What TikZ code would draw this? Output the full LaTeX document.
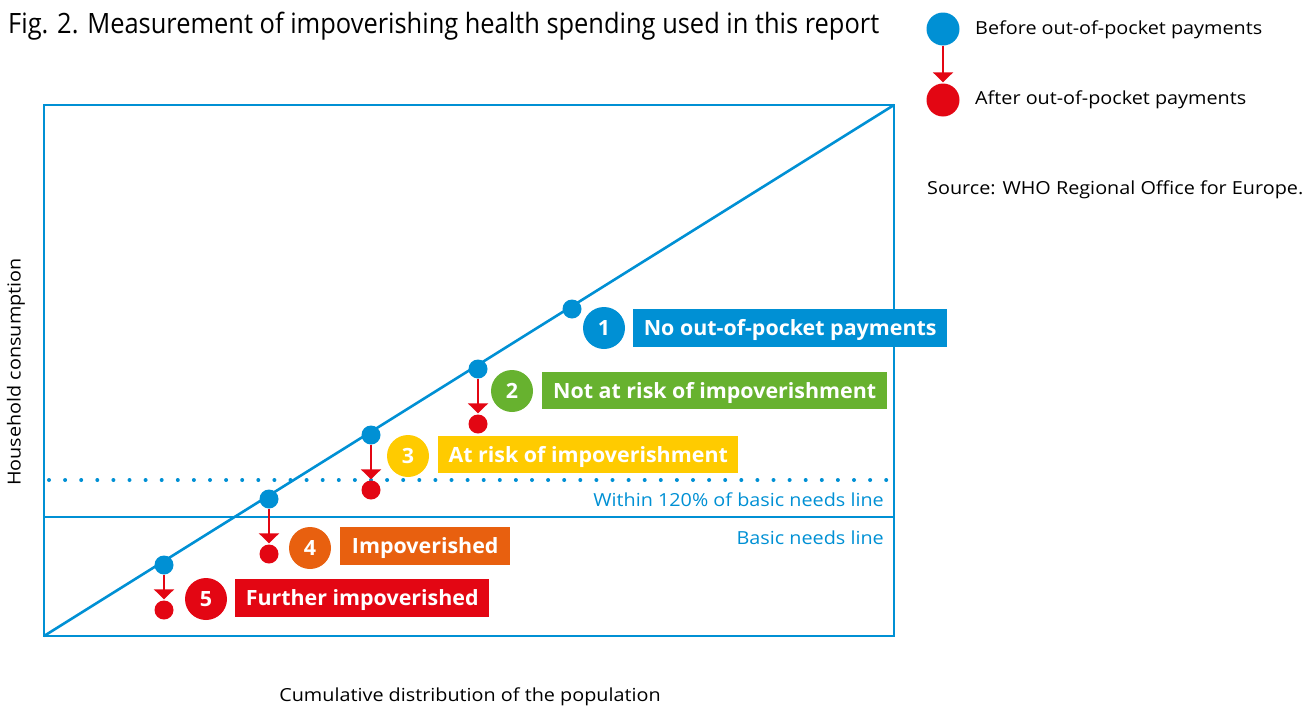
\documentclass[tikz,border=0pt]{standalone}
\usepackage{fontspec}
\setmainfont{Open Sans}
\newfontfamily\condfont[FakeStretch=0.908]{Open Sans}
\newfontfamily\widefont[FakeStretch=1.10]{Open Sans}
\newfontfamily\boxfont[FakeStretch=1.02]{Open Sans}
\usetikzlibrary{arrows.meta}
\definecolor{whoblue}{HTML}{0090D4}
\definecolor{whogreen}{HTML}{67B22F}
\definecolor{whoyellow}{HTML}{FFCB00}
\definecolor{whoorange}{HTML}{E8600F}
\definecolor{whored}{HTML}{E30613}
\tikzset{
  before/.style={circle,fill=whoblue,inner sep=0pt,minimum size=19pt},
  after/.style={circle,fill=whored,inner sep=0pt,minimum size=19pt},
  numc/.style={circle,fill=#1,inner sep=0pt,minimum size=42pt,text=white,text height=15pt,text depth=0pt,font=\fontsize{21}{21}\selectfont\boxfont\bfseries},
  lbox/.style={fill=#1,text=white,anchor=west,inner sep=0pt,text height=15pt,text depth=0pt,font=\fontsize{21}{21}\selectfont\boxfont\bfseries},
  oop/.style={draw=whored,line width=2.2pt,-{Triangle[width=20pt,length=10pt]},shorten >=1pt},
  small/.style={font=\fontsize{18}{18}\selectfont\widefont},
}
\begin{document}
\begin{tikzpicture}[x=1pt,y=-1pt]
\useasboundingbox (0,0) rectangle (1312,707);
% title
\node[anchor=base west,inner sep=0pt,font=\fontsize{28}{28}\selectfont\condfont] (title) at (8,33) {Fig. 2. Measurement of impoverishing health spending used in this report};
% legend
\node[before,minimum size=33pt] (lb) at (943,29) {};
\node[after,minimum size=33pt] (la) at (943,100) {};
\draw[oop] (lb) -- (la);
\node[small,anchor=west,inner sep=0pt] (lbt) at (975,30) {Before out-of-pocket payments};
\node[small,anchor=west,inner sep=0pt] (lat) at (975,100) {After out-of-pocket payments};
\node[small,anchor=west,inner sep=0pt] (src) at (927,190) {Source: WHO Regional Office for Europe.};
% frame
\draw[whoblue,line width=2.6pt] (44,105) rectangle (894,636);
\draw[whoblue,line width=2.6pt] (44,636) -- (894,105);
% lines
\draw[whoblue,line width=4pt,line cap=round,dash pattern=on 0pt off 16.1pt] (49,480) -- (894,480);
\draw[whoblue,line width=2pt] (44,517) -- (894,517);
\node[small,text=whoblue,anchor=east,inner sep=0pt] (w120) at (884,500) {Within 120\% of basic needs line};
\node[small,text=whoblue,anchor=east,inner sep=0pt] (bnl) at (884,538) {Basic needs line};
% axis labels
\node[small,rotate=90,inner sep=0pt] (ylab) at (16,372) {Household consumption};
\node[small,inner sep=0pt] (xlab) at (470,697) {Cumulative distribution of the population};
% points
\node[before] (b1) at (572,309) {};
\node[before] (b2) at (478,369) {};
\node[after] (a2) at (478,424) {};
\node[before] (b3) at (371,435) {};
\node[after] (a3) at (371,490) {};
\node[before] (b4) at (269,499) {};
\node[after] (a4) at (269,554) {};
\node[before] (b5) at (164,565) {};
\node[after] (a5) at (164,610) {};
\draw[oop] (b2) -- (a2);
\draw[oop] (b3) -- (a3);
\draw[oop] (b4) -- (a4);
\draw[oop] (b5) -- (a5);
% numbers
\node[numc=whoblue] (n1) at (604,328) {1};
\node[numc=whogreen] (n2) at (512,391) {2};
\node[numc=whoyellow] (n3) at (408,456) {3};
\node[numc=whoorange] (n4) at (310,548) {4};
\node[numc=whored] (n5) at (206,599) {5};
% label boxes
\node[lbox=whoblue,minimum width=314pt,minimum height=38pt] (l1) at (633,328) {No out-of-pocket payments};
\node[lbox=whogreen,minimum width=345pt,minimum height=37pt] (l2) at (542,390.5) {Not at risk of impoverishment};
\node[lbox=whoyellow,minimum width=300pt,minimum height=37pt] (l3) at (438,454.5) {At risk of impoverishment};
\node[lbox=whoorange,minimum width=170pt,minimum height=38pt] (l4) at (340,546) {Impoverished};
\node[lbox=whored,minimum width=254pt,minimum height=38pt] (l5) at (235,598) {Further impoverished};
\end{tikzpicture}
\end{document}
